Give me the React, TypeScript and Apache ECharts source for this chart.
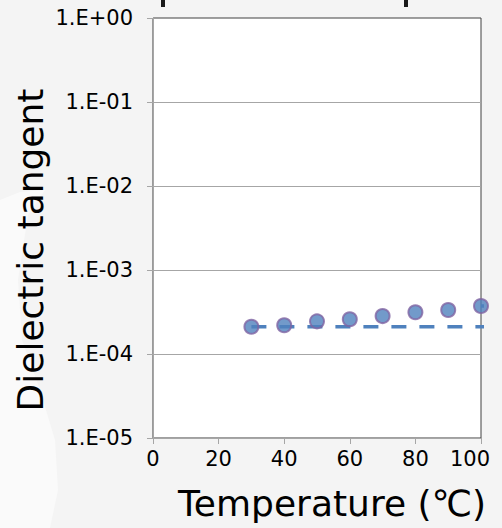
import React, { useEffect, useRef } from "react";
import * as echarts from "echarts";

const temperatures = [30, 40, 50, 60, 70, 80, 90, 100];
const tangentValues = [2.11e-4, 2.2e-4, 2.45e-4, 2.59e-4, 2.83e-4, 3.14e-4, 3.34e-4, 3.73e-4];
const baselineX = [30, 103.4];
const baselineY = [2.11e-4, 2.11e-4];
const tailX = [100, 104];
const tailY = [3.73e-4, 3.73e-4];
const xTicks = [0, 20, 40, 60, 80, 100];
const yTickLabels = ["1.E-05", "1.E-04", "1.E-03", "1.E-02", "1.E-01", "1.E+00"];

const fmtLog = (v: number) => {
  const e = Math.round(Math.log10(v));
  return yTickLabels[e + 5] ?? "";
};

export default function App() {
  const ref = useRef<HTMLDivElement>(null);
  useEffect(() => {
    document.body.style.margin = "0";
    const chart = echarts.init(ref.current!, null, { renderer: "svg" });
    const font = "DejaVu Sans";
    chart.setOption({
      animation: false,
      backgroundColor: "#f4f4f4",
      grid: {
        left: 153,
        top: 18,
        width: 328,
        height: 420,
        show: true,
        backgroundColor: "#ffffff",
        borderColor: "#404040",
        borderWidth: 1,
      },
      xAxis: {
        type: "value",
        min: 0,
        max: 100,
        interval: 20,
        axisLine: { show: true, lineStyle: { color: "#a6a6a6", width: 1 } },
        axisTick: { show: true, length: 6, lineStyle: { color: "#a6a6a6" } },
        splitLine: { show: false },
        axisLabel: {
          color: "#000",
          fontFamily: font,
          fontSize: 21,
          margin: 10,
          formatter: (v: number) =>
            v === 100 ? "{m|100}" : xTicks.includes(v) ? String(v) : "",
          rich: {
            m: { fontFamily: font, fontSize: 21, color: "#000", padding: [0, 22, 0, 0] },
          },
        },
      },
      yAxis: {
        type: "log",
        logBase: 10,
        min: 1e-5,
        max: 1,
        axisLine: { show: true, lineStyle: { color: "#a6a6a6", width: 1 } },
        axisTick: { show: true, length: 6, lineStyle: { color: "#a6a6a6" } },
        splitLine: {
          show: true,
          showMinLine: false,
          showMaxLine: false,
          lineStyle: { color: "#a6a6a6", width: 1 },
        },
        axisLabel: {
          color: "#000",
          fontFamily: font,
          fontSize: 21,
          margin: 20,
          formatter: fmtLog,
        },
      },
      series: [
        {
          type: "line",
          data: baselineX.map((x, i) => [x, baselineY[i]]),
          showSymbol: false,
          symbol: "none",
          clip: false,
          lineStyle: { color: "#4f81bd", width: 3.5, type: [15, 13] },
          z: 2,
        },
        {
          type: "line",
          data: tailX.map((x, i) => [x, tailY[i]]),
          showSymbol: false,
          symbol: "none",
          clip: false,
          lineStyle: { color: "#4f81bd", width: 3.5 },
          z: 2,
        },
        {
          type: "scatter",
          data: temperatures.map((t, i) => [t, tangentValues[i]]),
          symbol: "circle",
          symbolSize: 14,
          clip: false,
          itemStyle: { color: "#4f81bd", borderColor: "#8064a2", borderWidth: 2 },
          z: 3,
        },
      ],
      graphic: [
        {
          type: "polygon",
          z: -10,
          silent: true,
          shape: {
            points: [
              [0, 200], [20, 192], [45, 190], [28, 215], [18, 280], [22, 340],
              [40, 390], [55, 440], [58, 490], [50, 528], [0, 528],
            ],
          },
          style: { fill: "#fafafa" },
        },
        { type: "rect", shape: { x: 161, y: 0, width: 4, height: 7 }, style: { fill: "#1a1a1a" } },
        { type: "rect", shape: { x: 404, y: 0, width: 4, height: 7 }, style: { fill: "#1a1a1a" } },
        {
          type: "text",
          x: 30,
          y: 250,
          rotation: Math.PI / 2,
          style: {
            text: "Dielectric tangent",
            fontFamily: font,
            fontSize: 36,
            fill: "#000",
            align: "center",
            verticalAlign: "middle",
          },
        },
        {
          type: "text",
          x: 332,
          y: 503,
          style: {
            text: "Temperature (℃)",
            fontFamily: font,
            fontSize: 36,
            fill: "#000",
            align: "center",
            verticalAlign: "middle",
          },
        },
      ],
    });
    return () => chart.dispose();
  }, []);
  return <div ref={ref} style={{ width: 502, height: 528 }} />;
}
